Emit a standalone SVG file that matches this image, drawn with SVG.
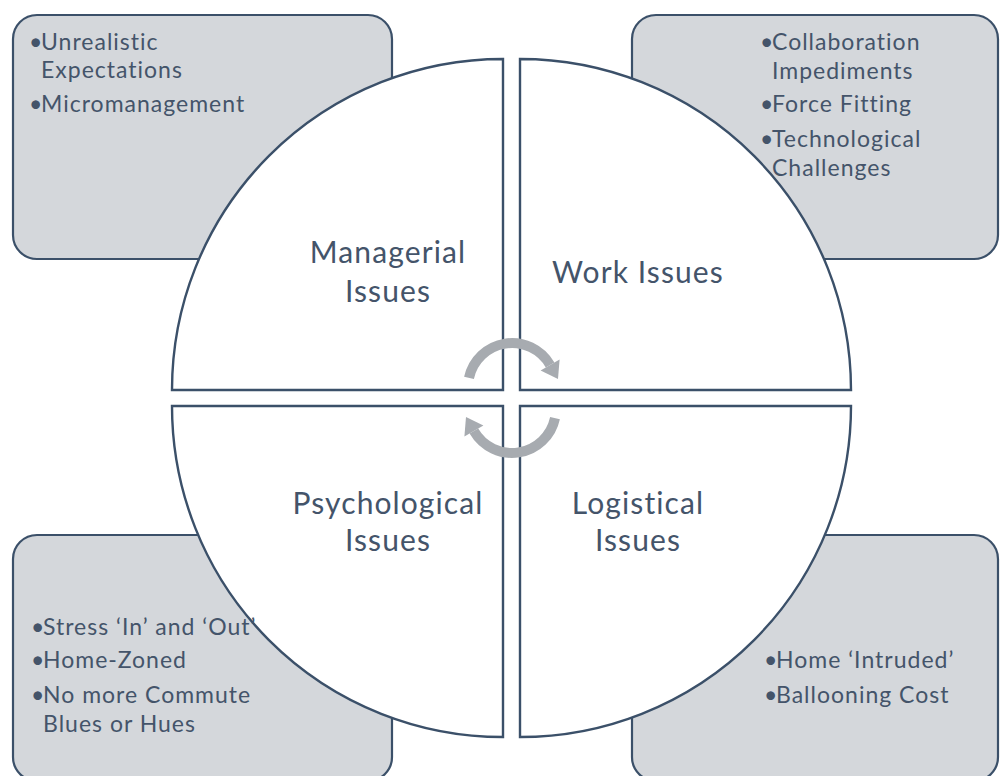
<svg xmlns="http://www.w3.org/2000/svg" width="1000" height="776" viewBox="0 0 1000 776">
<style>
.box{fill:#D4D7DB;stroke:#3B5069;stroke-width:2.2}
.quad{fill:#FFFFFF;stroke:#3B5069;stroke-width:2.4;stroke-linejoin:miter}
.bt{font-family:Lato,"Open Sans",sans-serif;font-size:23px;fill:#44546A;font-variant-ligatures:none}
.ls{letter-spacing:1px}
.lbl{font-family:Lato,"Open Sans",sans-serif;font-size:30px;fill:#44546A;text-anchor:middle;letter-spacing:1.1px;font-variant-ligatures:none}
.arc{fill:none;stroke:#A7ABB0;stroke-width:10}
.head{fill:#A7ABB0}
</style>
<rect width="1000" height="776" fill="#FFFFFF"/>
<g id="box-managerial">
<rect class="box" x="13" y="15" width="379" height="244" rx="24"/>
</g>
<g id="box-work">
<rect class="box" x="632" y="15" width="366" height="244" rx="24"/>
</g>
<g id="box-psychological">
<rect class="box" x="13" y="535" width="379" height="246" rx="24"/>
</g>
<g id="box-logistical">
<rect class="box" x="632" y="535" width="366" height="246" rx="24"/>
</g>
<g id="quad-managerial">
<path class="quad" d="M503,390 L503,59 A331,331 0 0 0 172,390 Z"/>
</g>
<g id="quad-work">
<path class="quad" d="M520,390 L520,59 A331,331 0 0 1 851,390 Z"/>
</g>
<g id="quad-psychological">
<path class="quad" d="M503,406 L172,406 A331,331 0 0 0 503,737 Z"/>
</g>
<g id="quad-logistical">
<path class="quad" d="M520,406 L851,406 A331,331 0 0 1 520,737 Z"/>
</g>
<g id="connectors">
<g id="cycle-top">
<path class="arc" d="M469,377.9 A44,44 0 0 1 550.1,365"/>
<polygon class="head" points="559.6,359.5 540.6,370.5 558,379"/>
</g>
<g id="cycle-bottom" transform="rotate(180 512 398)">
<path class="arc" d="M469,377.9 A44,44 0 0 1 550.1,365"/>
<polygon class="head" points="559.6,359.5 540.6,370.5 558,379"/>
</g>
</g>
<g id="text-managerial">
<text class="bt" x="29" y="50">•<tspan class="ls" x="41">Unrealistic</tspan><tspan class="ls" x="41" y="78">Expectations</tspan></text>
<text class="bt" x="29" y="112">•<tspan class="ls" x="41">Micromanagement</tspan></text>
<text class="lbl" x="388" y="263">Managerial<tspan x="388" dy="39">Issues</tspan></text>
</g>
<g id="text-work">
<text class="bt" x="760" y="50">•<tspan class="ls" x="772">Collaboration</tspan><tspan class="ls" x="772" y="79">Impediments</tspan></text>
<text class="bt" x="760" y="112">•<tspan class="ls" x="772">Force Fitting</tspan></text>
<text class="bt" x="760" y="147">•<tspan class="ls" x="772">Technological</tspan><tspan class="ls" x="772" y="176">Challenges</tspan></text>
<text class="lbl" x="638" y="283">Work Issues</text>
</g>
<g id="text-psychological">
<text class="bt" x="31" y="635">•<tspan class="ls" x="43">Stress ‘In’ and ‘Out’</tspan></text>
<text class="bt" x="31" y="668">•<tspan class="ls" x="43">Home-Zoned</tspan></text>
<text class="bt" x="31" y="703">•<tspan class="ls" x="43">No more Commute</tspan><tspan class="ls" x="43" y="732">Blues or Hues</tspan></text>
<text class="lbl" x="388" y="514">Psychological<tspan x="388" dy="37">Issues</tspan></text>
</g>
<g id="text-logistical">
<text class="bt" x="764" y="668">•<tspan class="ls" x="776">Home ‘Intruded’</tspan></text>
<text class="bt" x="764" y="703">•<tspan class="ls" x="776">Ballooning Cost</tspan></text>
<text class="lbl" x="638" y="514">Logistical<tspan x="638" dy="37">Issues</tspan></text>
</g>
</svg>
